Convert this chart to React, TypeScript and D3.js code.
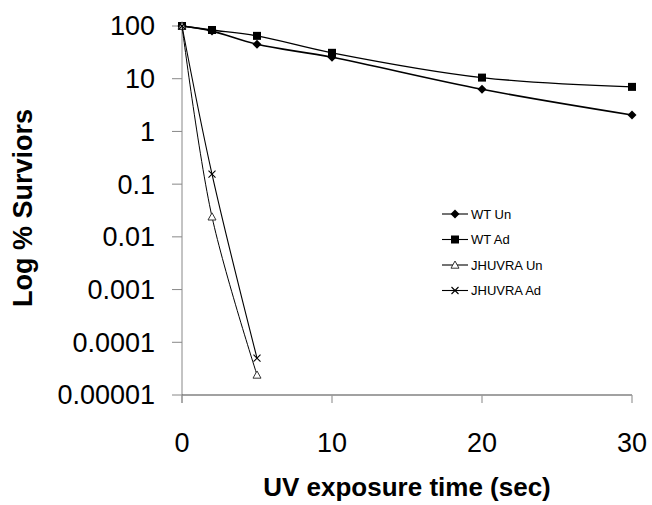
import React from 'react';
import * as d3 from 'd3';

const times = [0, 2, 5, 10, 20, 30];
const jhTimes = [0, 2, 5];

const wtUn = [100, 80, 45, 25.5, 6.3, 2.05];
const wtAd = [100, 84, 65, 31, 10.5, 7.0];
const jhUn = [100, 0.024, 0.000024];
const jhAd = [100, 0.155, 0.00005];

const yTicks = [100, 10, 1, 0.1, 0.01, 0.001, 0.0001, 0.00001];
const yTickLabels = ['100', '10', '1', '0.1', '0.01', '0.001', '0.0001', '0.00001'];
const xTicks = [0, 10, 20, 30];

const seriesNames = ['WT Un', 'WT Ad', 'JHUVRA Un', 'JHUVRA Ad'];

const W = 652;
const H = 505;
const font = 'Arial, "Liberation Sans", sans-serif';

const x = d3.scaleLinear().domain([0, 30]).range([182, 632]);
const y = d3.scaleLog().domain([0.00001, 100]).range([395, 26]);

type Pt = [number, number];

const line = d3
  .line<Pt>()
  .x((d) => x(d[0]))
  .y((d) => y(d[1]))
  .curve(d3.curveCatmullRom.alpha(0.5));

function Marker({ kind, cx, cy }: { kind: string; cx: number; cy: number }) {
  if (kind === 'WT Un') {
    const r = 4.5;
    return <path d={`M${cx},${cy - r}L${cx + r},${cy}L${cx},${cy + r}L${cx - r},${cy}Z`} fill="#000" />;
  }
  if (kind === 'WT Ad') {
    const s = 8;
    return <rect x={cx - s / 2} y={cy - s / 2} width={s} height={s} fill="#000" />;
  }
  if (kind === 'JHUVRA Un') {
    const r = 4;
    return (
      <path
        d={`M${cx},${cy - r}L${cx + r},${cy + r * 0.8}L${cx - r},${cy + r * 0.8}Z`}
        fill="#fff"
        stroke="#333"
        strokeWidth={1}
      />
    );
  }
  const r = 3.5;
  return (
    <path
      d={`M${cx - r},${cy - r}L${cx + r},${cy + r}M${cx + r},${cy - r}L${cx - r},${cy + r}`}
      stroke="#000"
      strokeWidth={1.1}
    />
  );
}

const series = [
  { name: seriesNames[0], xs: times, ys: wtUn, width: 1.6 },
  { name: seriesNames[1], xs: times, ys: wtAd, width: 1.4 },
  { name: seriesNames[2], xs: jhTimes, ys: jhUn, width: 1 },
  { name: seriesNames[3], xs: jhTimes, ys: jhAd, width: 1.1 },
];

export default function App() {
  return (
    <svg
      width={W}
      height={H}
      style={{ position: 'absolute', left: 0, top: 0, background: '#fff' }}
      fontFamily={font}
    >
      {/* y axis */}
      <line x1={x(0)} x2={x(0)} y1={y(100)} y2={403} stroke="#888" strokeWidth={1} />
      {yTicks.map((t, i) => (
        <g key={t}>
          <line x1={172} x2={x(0)} y1={y(t)} y2={y(t)} stroke="#888" strokeWidth={1} />
          <text x={155} y={y(t)} dy="0.35em" textAnchor="end" fontSize={27} fill="#000">
            {yTickLabels[i]}
          </text>
        </g>
      ))}

      {/* x axis */}
      <line x1={x(0)} x2={x(30)} y1={y(0.00001)} y2={y(0.00001)} stroke="#444" strokeWidth={1.2} />
      {xTicks.map((t) => (
        <g key={t}>
          <line x1={x(t)} x2={x(t)} y1={y(0.00001)} y2={403} stroke="#999" strokeWidth={1.2} />
          <text x={x(t)} y={452} textAnchor="middle" fontSize={27} fill="#000">
            {t}
          </text>
        </g>
      ))}

      {/* series */}
      {series.map((s) => {
        const pts: Pt[] = s.xs.map((v, i) => [v, s.ys[i]]);
        return (
          <g key={s.name}>
            <path d={line(pts) || ''} fill="none" stroke="#000" strokeWidth={s.width} />
            {pts.map((p, i) => (
              <Marker key={i} kind={s.name} cx={x(p[0])} cy={y(p[1])} />
            ))}
          </g>
        );
      })}

      {/* legend */}
      {seriesNames.map((n, i) => {
        const ly = 214 + i * 25.5;
        return (
          <g key={n}>
            <line x1={442} x2={468} y1={ly} y2={ly} stroke="#000" strokeWidth={1.1} />
            <Marker kind={n} cx={455} cy={ly} />
            <text x={471} y={ly} dy="0.35em" fontSize={13} fill="#000">
              {n}
            </text>
          </g>
        );
      })}

      {/* axis titles */}
      <text
        transform={`translate(32,208) rotate(-90)`}
        textAnchor="middle"
        fontSize={27}
        fontWeight="bold"
        fill="#000"
      >
        Log % Surviors
      </text>
      <text x={407} y={496} textAnchor="middle" fontSize={26} fontWeight="bold" fill="#000">
        UV exposure time (sec)
      </text>
    </svg>
  );
}
